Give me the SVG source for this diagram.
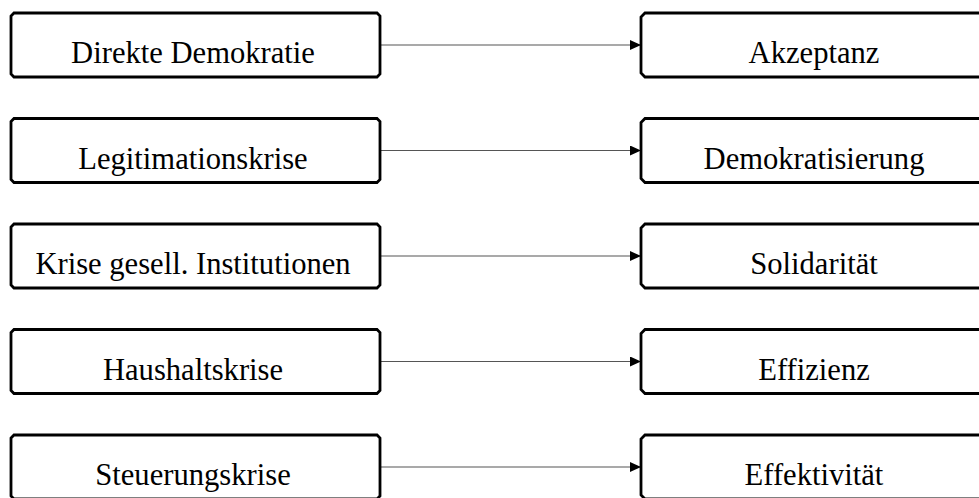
<svg xmlns="http://www.w3.org/2000/svg" width="979" height="498" viewBox="0 0 979 498">
<defs>
<style>
.box{fill:#fff;stroke:#000;stroke-width:2.8;stroke-linejoin:miter}
.lbl{font-family:"Liberation Serif","Times New Roman",serif;font-size:30.6px;fill:#000;text-anchor:middle}
.con{stroke:#555;stroke-width:1.2;fill:none}
</style>
<marker id="ah" markerUnits="userSpaceOnUse" markerWidth="12" markerHeight="12" refX="11" refY="5" orient="auto">
<path d="M0,0 L11,5 L0,10 Z" fill="#000"/>
</marker>
</defs>
<rect width="979" height="498" fill="#fff"/>
<g id="connectors">
<line class="con" x1="381" y1="45" x2="641" y2="45" marker-end="url(#ah)"/>
<line class="con" x1="381" y1="150.5" x2="641" y2="150.5" marker-end="url(#ah)"/>
<line class="con" x1="381" y1="256" x2="641" y2="256" marker-end="url(#ah)"/>
<line class="con" x1="381" y1="361.5" x2="641" y2="361.5" marker-end="url(#ah)"/>
<line class="con" x1="381" y1="467" x2="641" y2="467" marker-end="url(#ah)"/>
</g>
<g id="n1"><path class="box" d="M14,13 H377 L380,16 V74 L377,77 H14 L11,74 V16 Z"/><text class="lbl" x="193" y="63">Direkte Demokratie</text></g>
<g id="n2"><path class="box" d="M14,118.5 H377 L380,121.5 V179.5 L377,182.5 H14 L11,179.5 V121.5 Z"/><text class="lbl" x="193" y="168.5">Legitimationskrise</text></g>
<g id="n3"><path class="box" d="M14,224 H377 L380,227 V285 L377,288 H14 L11,285 V227 Z"/><text class="lbl" x="193" y="274">Krise gesell. Institutionen</text></g>
<g id="n4"><path class="box" d="M14,329.5 H377 L380,332.5 V390.5 L377,393.5 H14 L11,390.5 V332.5 Z"/><text class="lbl" x="193" y="379.5">Haushaltskrise</text></g>
<g id="n5"><path class="box" d="M14,435 H377 L380,438 V496 L377,499 H14 L11,496 V438 Z"/><text class="lbl" x="193" y="485">Steuerungskrise</text></g>
<g id="m1"><path class="box" d="M645,13 H1000 V77 H645 L641,73 V17 Z"/><text class="lbl" x="814" y="63">Akzeptanz</text></g>
<g id="m2"><path class="box" d="M645,118.5 H1000 V182.5 H645 L641,178.5 V122.5 Z"/><text class="lbl" x="814" y="168.5">Demokratisierung</text></g>
<g id="m3"><path class="box" d="M645,224 H1000 V288 H645 L641,284 V228 Z"/><text class="lbl" x="814" y="274">Solidarität</text></g>
<g id="m4"><path class="box" d="M645,329.5 H1000 V393.5 H645 L641,389.5 V333.5 Z"/><text class="lbl" x="814" y="379.5">Effizienz</text></g>
<g id="m5"><path class="box" d="M645,435 H1000 V499 H645 L641,495 V439 Z"/><text class="lbl" x="814" y="485">Effektivität</text></g>
</svg>
